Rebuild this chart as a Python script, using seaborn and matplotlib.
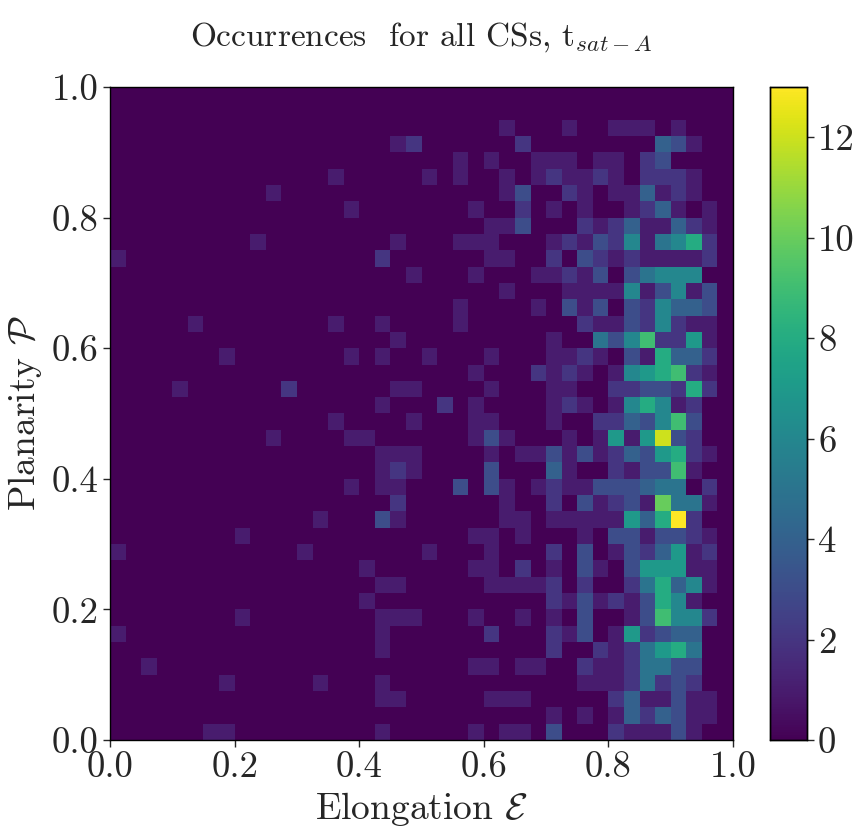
import numpy as np
import pandas as pd
import matplotlib
matplotlib.use("Agg")
import matplotlib.pyplot as plt
import seaborn as sns

# Counts per cell, rows from top (P = 1.0) to bottom (P = 0.0), hex digits (a=10 ... d=13)
# left part: Elongation bins 0..21 ; right part: bins 22..39
left_rows = [
    "0000000000000000000000",
    "0000000000000000000000",
    "0000000000000000000000",
    "0000000000000000001200",
    "0000000000000000000000",
    "0000000000000010000010",
    "0000000000100000000000",
    "0000000000000001000000",
    "0000000000000000000000",
    "0000000001000000001000",
    "1000000000000000020000",
    "0000000000000000000100",
    "0000000000000000000000",
    "0000000000000000000000",
    "0000010000000010010000",
    "0000000000000000001000",
    "0000000100000001010010",
    "0000000000000000000000",
    "0000100000020000001100",
    "0000000000000000010002",
    "0000000000000010000100",
    "0000000000100001100000",
    "0000000000000000011100",
    "0000000000000000012100",
    "0000000000000001011000",
    "0000000000000000002000",
    "0000000000000100031000",
    "0000000010000000000000",
    "1000000000001000000010",
    "0000000000000000100000",
    "0000000000000000011000",
    "0000000000000000100000",
    "0000000010000000011100",
    "1000000000000000010000",
    "0000000000000000010000",
    "0010000000000000000000",
    "0000000100000100010000",
    "0000000000000000011000",
    "0000000000000000000000",
    "0000001100000000010000",
]
right_rows = [
    "000000000000000000",
    "000000000000000000",
    "000100010011101000",
    "000020000000043100",
    "101001110110230000",
    "100101211210222100",
    "000130021011412100",
    "010020101001241010",
    "001130002124114210",
    "111000121326156820",
    "001100203212111120",
    "010001121303566600",
    "000100011116136130",
    "100001031303264430",
    "100000002113262110",
    "000000100536922710",
    "001000112103184420",
    "010002121016789210",
    "001000110022332820",
    "010000121016861200",
    "011000100224369300",
    "0131000101717c3200",
    "001011313124378210",
    "003000410021339100",
    "303101211333455020",
    "0001002031231a5510",
    "00011011111748d200",
    "011010001033133210",
    "001000203013247120",
    "011020103103777110",
    "001111202002584610",
    "000000213121386100",
    "010010103001396620",
    "002000213017234400",
    "000000200212578500",
    "011011002112553300",
    "000000001112523200",
    "001110000024113110",
    "000000101014243110",
    "010110300021113100",
]
n_bins = 40
x_ticks = [0.0, 0.2, 0.4, 0.6, 0.8, 1.0]
y_ticks = [0.0, 0.2, 0.4, 0.6, 0.8, 1.0]
cbar_ticks = [0, 2, 4, 6, 8, 10, 12]
count_max = 13

title = r"Occurrences  for all CSs, t$_{sat-A}$"
x_label = r"Elongation $\mathcal{E}$"
y_label = r"Planarity $\mathcal{P}$"

# build long table of cell centres and counts
recs = []
for r, (lr, rr) in enumerate(zip(left_rows, right_rows)):
    row = lr + rr
    assert len(row) == n_bins, (r, len(row))
    yb = n_bins - 1 - r
    for xb, ch in enumerate(row):
        recs.append(((xb + 0.5) / n_bins, (yb + 0.5) / n_bins, int(ch, 16)))
df = pd.DataFrame(recs, columns=["elong", "plan", "count"])

sns.set_theme(style="white")
plt.rcParams["font.family"] = ["cmr10", "DejaVu Serif"]
plt.rcParams["mathtext.fontset"] = "cm"
plt.rcParams["axes.formatter.use_mathtext"] = True
plt.rcParams["axes.unicode_minus"] = False

fig = plt.figure(figsize=(8.67, 8.34), dpi=100)
ax = fig.add_axes([0.1269, 0.1127, 0.7186, 0.7830])
cax = fig.add_axes([0.8881, 0.1127, 0.0427, 0.7830])

sns.histplot(data=df, x="elong", y="plan", weights="count", bins=n_bins,
             binrange=((0, 1), (0, 1)), cmap="viridis", thresh=None,
             vmin=0, vmax=count_max, cbar=True, cbar_ax=cax, ax=ax)

ax.set_xlim(0, 1)
ax.set_ylim(0, 1)
ax.set_xticks(x_ticks)
ax.set_yticks(y_ticks)
ax.set_xticklabels([f"{t:.1f}" for t in x_ticks])
ax.set_yticklabels([f"{t:.1f}" for t in y_ticks])
ax.tick_params(axis="both", labelsize=26.5, length=5, width=1, direction="out",
               bottom=True, left=True, pad=3)
for s in ax.spines.values():
    s.set_visible(True)
    s.set_color("black")
    s.set_linewidth(1)
ax.set_xlabel(x_label, fontsize=27, labelpad=4)
ax.set_ylabel(y_label, fontsize=27, labelpad=6)
ax.set_title(title, fontsize=24, pad=30)

cax.set_yticks(cbar_ticks)
cax.set_yticklabels([str(t) for t in cbar_ticks])
cax.tick_params(axis="y", labelsize=26.5, length=5, width=1, right=True, direction="out", pad=3)
for s in cax.spines.values():
    s.set_visible(True)
    s.set_color("black")
    s.set_linewidth(1)

fig.savefig("out.png", dpi=100, facecolor="white")
